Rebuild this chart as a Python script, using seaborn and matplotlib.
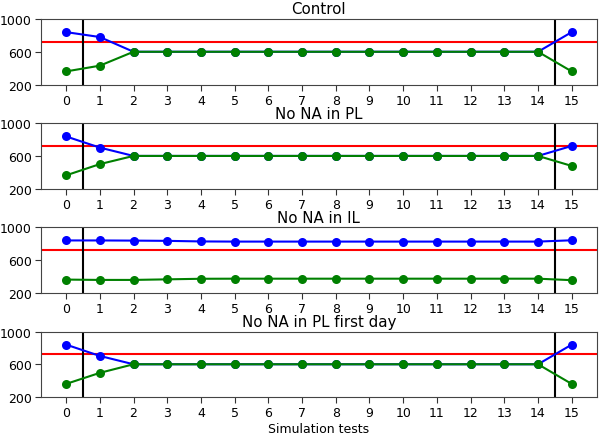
import pandas as pd
import seaborn as sns
import matplotlib
matplotlib.use('Agg')
import matplotlib.pyplot as plt

tests = list(range(16))

titles = ["Control", "No NA in PL", "No NA in IL", "No NA in PL first day"]

blue_control = [840, 780, 600, 600, 600, 600, 600, 600, 600, 600, 600, 600, 600, 600, 600, 840]
green_control = [360, 430, 600, 600, 600, 600, 600, 600, 600, 600, 600, 600, 600, 600, 600, 360]

blue_no_pl = [838, 702, 600, 600, 600, 600, 600, 600, 600, 600, 600, 600, 600, 600, 600, 722]
green_no_pl = [363, 500, 600, 600, 600, 600, 600, 600, 600, 600, 600, 600, 600, 600, 600, 478]

blue_no_il = [840, 840, 838, 835, 828, 826, 826, 826, 826, 826, 826, 826, 826, 826, 826, 842]
green_no_il = [362, 358, 358, 365, 372, 373, 373, 373, 373, 373, 373, 373, 373, 373, 373, 355]

blue_first_day = [840, 702, 600, 600, 600, 600, 600, 600, 600, 600, 600, 600, 600, 600, 600, 840]
green_first_day = [360, 495, 600, 600, 600, 600, 600, 600, 600, 600, 600, 600, 600, 600, 600, 360]

threshold = 720
cutoffs = [0.5, 14.5]

series = [
    (blue_control, green_control),
    (blue_no_pl, green_no_pl),
    (blue_no_il, green_no_il),
    (blue_first_day, green_first_day),
]

sns.set_style('ticks')
plt.rcParams['font.family'] = ['DejaVu Sans']
plt.rcParams['axes.edgecolor'] = '#444444'
plt.rcParams['text.color'] = 'black'
plt.rcParams['axes.labelcolor'] = 'black'
plt.rcParams['xtick.color'] = '#333333'
plt.rcParams['ytick.color'] = '#333333'
plt.rcParams['xtick.labelcolor'] = 'black'
plt.rcParams['ytick.labelcolor'] = 'black'

fig, axes = plt.subplots(4, 1, figsize=(6, 4.35), dpi=100)
fig.subplots_adjust(left=0.068, right=0.995, top=0.954, bottom=0.085, hspace=0.59)

for ax, title, (blue, green) in zip(axes, titles, series):
    df = pd.DataFrame({'test': tests, 'blue': blue, 'green': green})
    ax.axhline(threshold, color='red', lw=1.5, zorder=1)
    for c in cutoffs:
        ax.axvline(c, color='black', lw=1.5, zorder=1)
    sns.lineplot(data=df, x='test', y='blue', ax=ax, color='blue', marker='o',
                 markersize=6.5, markeredgewidth=0, lw=1.5, zorder=2)
    sns.lineplot(data=df, x='test', y='green', ax=ax, color='green', marker='o',
                 markersize=6.5, markeredgewidth=0, lw=1.5, zorder=3)
    ax.set_ylim(200, 1000)
    ax.set_yticks([200, 600, 1000])
    ax.set_xticks(tests)
    ax.set_xlim(-0.75, 15.75)
    ax.set_ylabel('')
    ax.set_xlabel('')
    ax.set_title(title, fontsize=10.8, pad=4)
    ax.tick_params(labelsize=9, length=4, pad=2.5)

axes[-1].set_xlabel("Simulation tests", fontsize=9, labelpad=2)

plt.savefig('out.png', dpi=100)
